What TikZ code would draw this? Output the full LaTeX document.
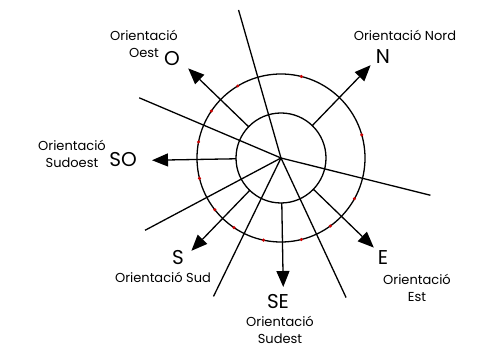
\documentclass[tikz,border=0pt]{standalone}
\usepackage{fontspec}
\setmainfont{Poppins}
\usetikzlibrary{arrows.meta}
\begin{document}
\begin{tikzpicture}[x=1pt, y=1pt, line width=1.3pt,
    dir/.style={-{Triangle[length=16pt,width=13pt]}},
    letter/.style={font=\fontsize{20}{20}\selectfont},
    label/.style={font=\fontsize{13}{17}\selectfont, align=center},
    dot/.style={fill=red!80!black}]
  \useasboundingbox (0,0) rectangle (477,348);
  \coordinate (centre) at (281,190);

  % cercles
  \draw (centre) circle (45);
  \draw (centre) circle (84);

  % rajos des del centre
  \foreach \a/\n in {106/r1, 157/r2, 208/r3, 244/r4, 295/r5, 346/r6}
    \draw (centre) -- ++(\a:154) coordinate (\n);

  % fletxes d'orientacio
  \foreach \a/\n in {46/N, 136/O, 181/SO, 226/S, 271/SE, 316/E}{
    \path (centre) ++(\a:45) coordinate (\n-a);
    \path (centre) ++(\a:129) coordinate (\n-b);
    \draw[dir] (\n-a) -- (\n-b);
  }

  % punts vermells
  \foreach \a in {16,76,121,146,169,194,218,236,258,284,306,331}
    \fill[dot] (centre) ++(\a:84) circle (1.7);

  % etiquetes
  \node[letter] (lN) at (383,291) {N};
  \node[label] (tN) at (405,313) {Orientació Nord};
  \node[letter] (lO) at (172,289) {O};
  \node[label] (tO) at (144,304) {Orientació\\Oest};
  \node[letter] (lSO) at (123,188) {SO};
  \node[label] (tSO) at (72,194) {Orientació\\Sudoest};
  \node[letter] (lS) at (178,90) {S};
  \node[label] (tS) at (163,71) {Orientació Sud};
  \node[letter] (lSE) at (278,46) {SE};
  \node[label] (tSE) at (280,18) {Orientació\\Sudest};
  \node[letter] (lE) at (383,90) {E};
  \node[label] (tE) at (417,60) {Orientació\\Est};
\end{tikzpicture}
\end{document}
